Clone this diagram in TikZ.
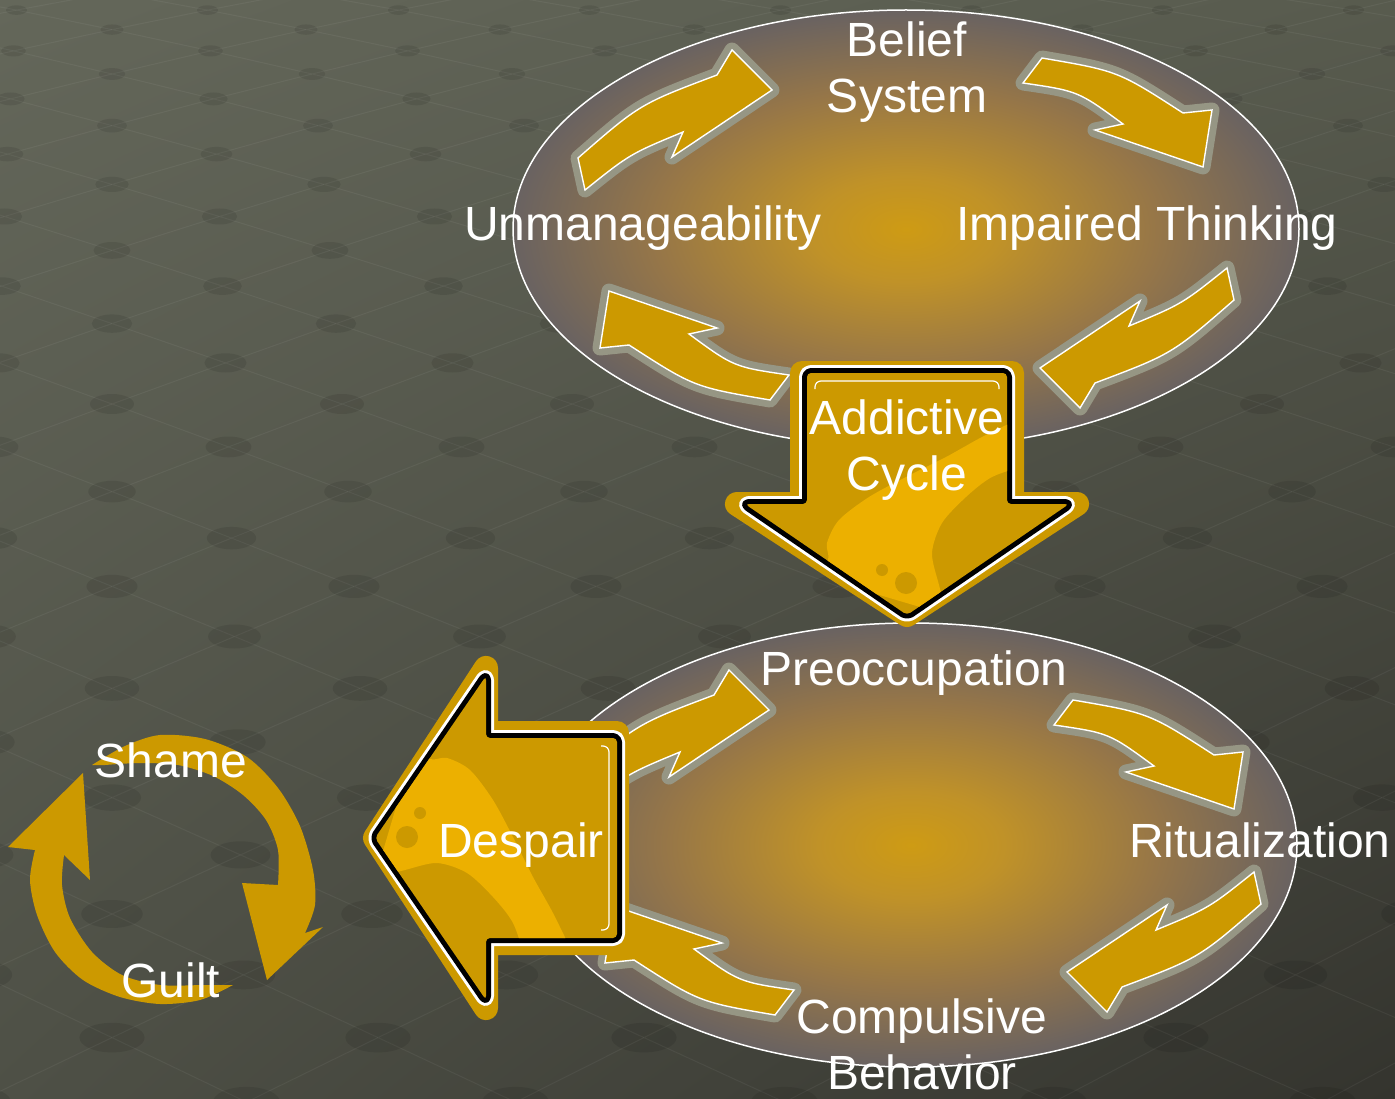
\documentclass[tikz,border=0pt]{standalone}
\usepackage{fontspec}
\setmainfont{Liberation Sans}
\usetikzlibrary{calc, shadings}

\definecolor{gold}{RGB}{204,153,0}
\definecolor{lightgold}{RGB}{236,176,0}
\definecolor{halo}{RGB}{150,150,132}
\definecolor{glowA}{RGB}{206,155,20}
\definecolor{glowB}{RGB}{192,146,40}
\definecolor{glowC}{RGB}{150,118,72}
\definecolor{glowD}{RGB}{100,96,100}
\definecolor{bgA}{RGB}{100,103,90}
\definecolor{bgB}{RGB}{88,91,78}
\definecolor{bgC}{RGB}{78,80,70}
\definecolor{bgD}{RGB}{52,52,46}
\pgfdeclareradialshading{glow}{\pgfpoint{0bp}{0bp}}{color(0bp)=(glowA); color(6bp)=(glowB); color(16bp)=(glowC); color(26bp)=(glowD); color(50bp)=(glowD)}

\def\bigarrowpath{(0,0) -- (111,-162) -- (111,-100) -- (242,-100) -- (242,100) -- (111,100) -- (111,162) -- cycle}

\tikzset{
  lbl/.style={text=white, font=\fontsize{48}{56}\selectfont, align=center, inner sep=0pt, anchor=base},
  cyc/.style={fill=gold, draw=white, line width=1.4pt, preaction={draw=halo, line width=15pt, line join=round}},
  cycA/.pic={\path[cyc] (-328,-71) .. controls (-266,-125) .. (-189,-154) -- (-174,-179) -- (-134,-139)
      -- (-234,-72) -- (-223,-97) .. controls (-276,-75) .. (-321,-39) -- cycle;},
  cycB/.pic={\path[cyc] (136,-171) .. controls (212,-158) .. (277,-116) -- (306,-119) -- (297,-62)
      -- (189,-99) -- (217,-105) .. controls (172,-138) .. (117,-146) -- cycle;},
  bigarrow/.pic={
    \draw[gold, line width=24pt, line join=round, yscale=1.05] \bigarrowpath;
    \draw[white, line width=16pt, line join=round, rounded corners=4pt] \bigarrowpath;
    \draw[black, line width=10pt, line join=round, rounded corners=4pt] \bigarrowpath;
    \fill[gold, rounded corners=4pt] \bigarrowpath;
    \begin{scope}
      \clip \bigarrowpath;
      \fill[lightgold] plot[smooth] coordinates {(40,-95) (55,-79) (72,-80) (95,-68) (118,-38) (138,-1) (158,39) (178,75) (200,120)}
        -- plot[smooth] coordinates {(150,120) (138,85) (118,59) (92,35) (62,25) (30,32) (0,40)} -- cycle;
    \end{scope}
    \fill[gold] (32,-1) circle[radius=11pt] (45,-25) circle[radius=6pt];
    \draw[white, line width=1.2pt, rounded corners=6pt] (226,-92) -- (234,-92) -- (234,92) -- (226,92);
  }
}

\begin{document}
\begin{tikzpicture}[x=1pt, y=-1pt,
    declare function={gx(\a,\b)=112+115*\a+1.5*\a*\b; gy(\a,\b)=404+42*\b+0.9*\b*\b;}]
  \useasboundingbox (0,0) rectangle (1395,1099);
  \shade[upper left=bgA, upper right=bgB, lower left=bgC, lower right=bgD] (0,0) rectangle (1395,1099);

  % dotted floor
  \foreach \m in {-16,...,13}{
    \pgfmathtruncatemacro\p{mod(\m+40,2)}
    \foreach \c in {-1,...,8}{
      \pgfmathtruncatemacro\k{2*\c+\p}
      \draw[white, opacity=0.05, line width=1pt] ({gx(\k,\m)},{gy(\k,\m)}) -- ({gx(\k+1,\m+1)},{gy(\k+1,\m+1)})
        ({gx(\k,\m)},{gy(\k,\m)}) -- ({gx(\k+1,\m-1)},{gy(\k+1,\m-1)});
      \fill[black, opacity=0.09] ({gx(\k,\m)},{gy(\k,\m)}) ellipse[x radius={22*(1+0.04*\m)}, y radius={10*(1+0.04*\m)}];
    }
  }

  % the two cycles
  \shade[shading=glow, draw=white, line width=1.5pt] (906,229) ellipse[x radius=393pt, y radius=219pt];
  \shade[shading=glow, draw=white, line width=1.5pt] (911,845) ellipse[x radius=386pt, y radius=222pt];

  \pic at (906,229) {cycA};
  \pic at (906,229) {cycB};
  \pic[rotate=180] at (906,229) {cycA};
  \pic[rotate=180] at (906,229) {cycB};

  \pic at (903,849) {cycA};
  \pic at (937,871) {cycB};
  \pic[rotate=180] at (933,833) {cycA};
  \pic[rotate=180] at (911,844) {cycB};

  \pic[rotate=90] at (907,615) {bigarrow};
  \pic at (375,838) {bigarrow};

  % shame and guilt
  \fill[gold] plot[smooth] coordinates {(92,765) (125,746) (160,735) (205,739) (247,757) (278,788) (300,826) (313,870) (315,905) (305,933)}
    -- (323,927) -- (267,980) -- (242,883)
    -- plot[smooth] coordinates {(278,885) (278,850) (266,820) (243,795) (213,776) (178,765) (140,763) (105,765)} -- cycle;
  \fill[gold] plot[smooth] coordinates {(233,985) (200,1000) (160,1004) (120,997) (83,980) (55,952) (37,915) (30,880) (35,850)}
    -- (8,847) -- (83,773) -- (90,880)
    -- plot[smooth] coordinates {(64,855) (62,885) (70,918) (92,952) (122,975) (160,985) (200,985)} -- cycle;

  \node[lbl] (belief) at (907,113) {Belief\\System};
  \node[lbl] (unmanage) at (643,241) {Unmanageability};
  \node[lbl] (impaired) at (1147,241) {Impaired Thinking};
  \node[lbl] (addictive) at (907,490) {Addictive\\Cycle};
  \node[lbl] (preocc) at (914,685) {Preoccupation};
  \node[lbl] (ritual) at (1260,857) {Ritualization};
  \node[lbl] (compulsive) at (922,1089) {Compulsive\\Behavior};
  \node[lbl] (despair) at (521,857) {Despair};
  \node[lbl] (shame) at (171,777) {Shame};
  \node[lbl] (guilt) at (171,997) {Guilt};
\end{tikzpicture}
\end{document}
